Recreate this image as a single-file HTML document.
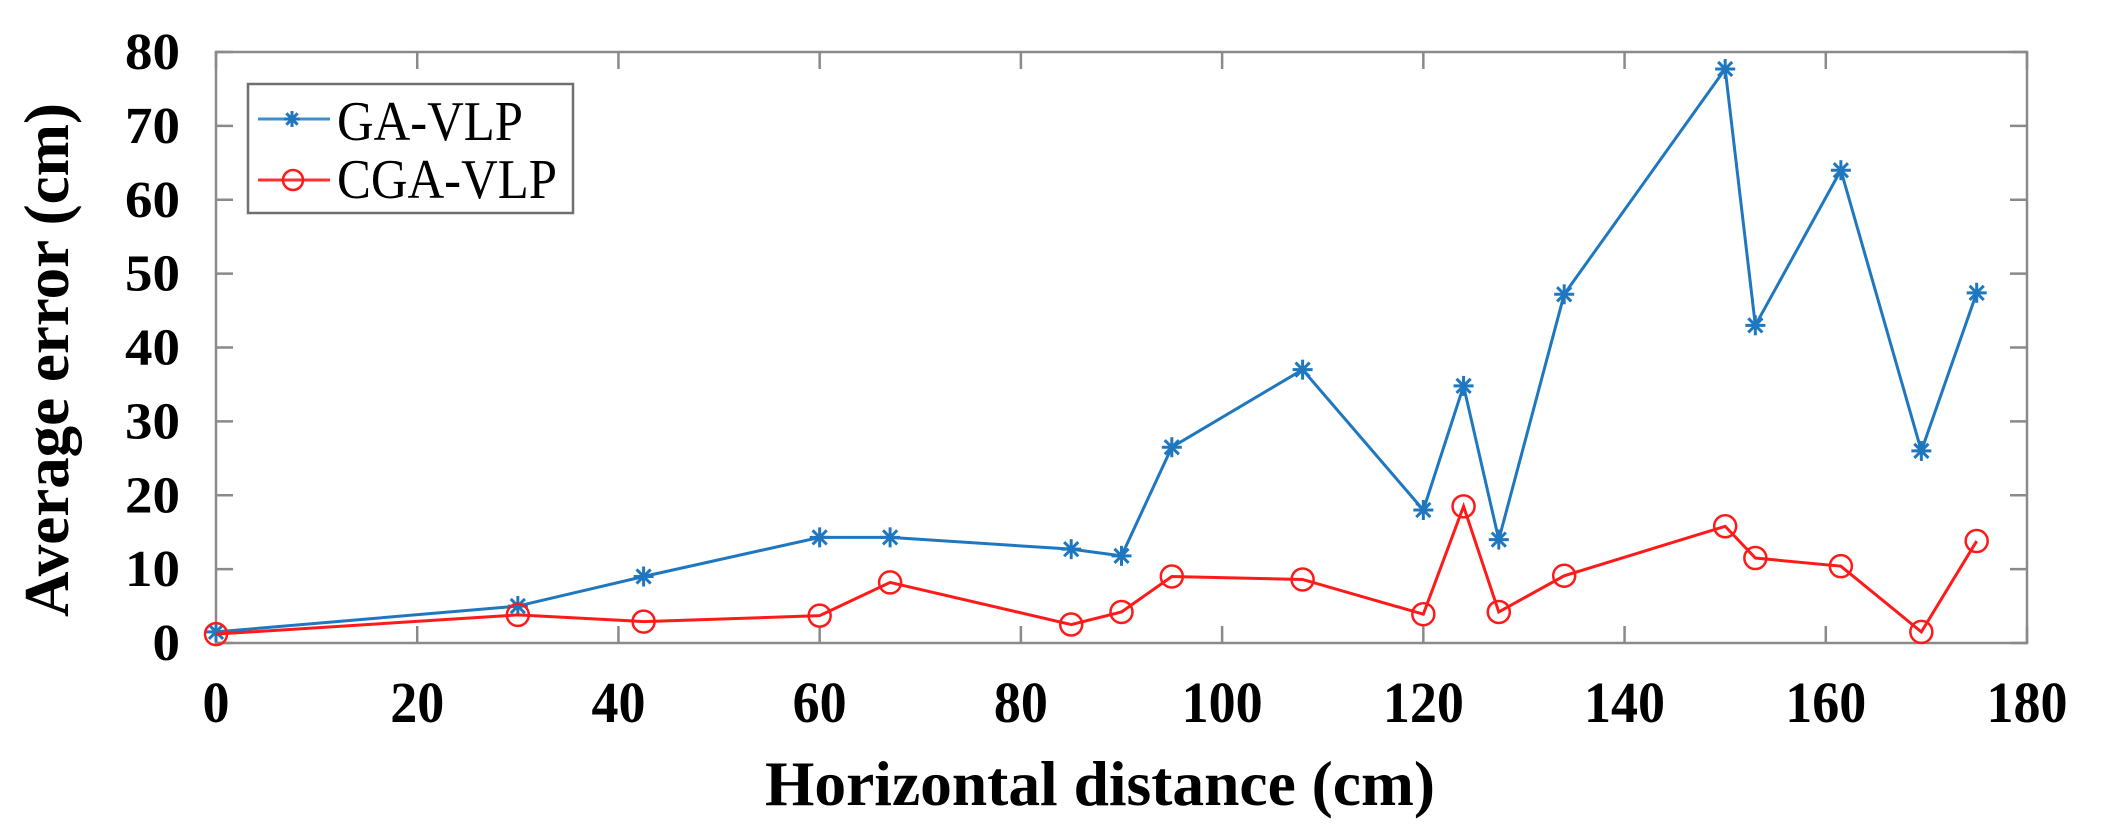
<!DOCTYPE html>
<html><head><meta charset="utf-8">
<style>html,body{margin:0;padding:0;background:#fff;width:2102px;height:836px;overflow:hidden}</style>
</head><body>
<svg id="s" width="2102" height="836" xmlns="http://www.w3.org/2000/svg" font-family="Liberation Serif, serif">
</svg>
<script>
const s=document.getElementById('s');
const L=216,R=2027,T=52,B=643;
const X=v=>L+v*(R-L)/180, Y=v=>B-v*(B-T)/80;
let h='';
h+=`<rect x="${L}" y="${T}" width="${R-L}" height="${B-T}" fill="none" stroke="#8a8a8a" stroke-width="2.5"/>`;
for(let v=0;v<=180;v+=20){const x=X(v);
 h+=`<line x1="${x}" y1="${B}" x2="${x}" y2="${B-17}" stroke="#8a8a8a" stroke-width="2.5"/><line x1="${x}" y1="${T}" x2="${x}" y2="${T+17}" stroke="#8a8a8a" stroke-width="2.5"/>`;
 const n=String(v).length;
 h+=`<text x="${x}" y="722" font-size="58" font-weight="bold" text-anchor="middle" textLength="${n*27}" lengthAdjust="spacingAndGlyphs">${v}</text>`;}
for(let v=0;v<=80;v+=10){const y=Y(v);
 h+=`<line x1="${L}" y1="${y}" x2="${L+17}" y2="${y}" stroke="#8a8a8a" stroke-width="2.5"/><line x1="${R}" y1="${y}" x2="${R-17}" y2="${y}" stroke="#8a8a8a" stroke-width="2.5"/>`;
 const n=String(v).length;
 h+=`<text x="${180-n*27.5}" y="${y+17}" font-size="52" font-weight="bold" textLength="${n*27.5}" lengthAdjust="spacingAndGlyphs">${v}</text>`;}
h+=`<text x="765" y="805" font-size="64" font-weight="bold" textLength="670" lengthAdjust="spacingAndGlyphs">Horizontal distance (cm)</text>`;
h+=`<text transform="translate(68,617) rotate(-90)" font-size="63" font-weight="bold" textLength="514" lengthAdjust="spacingAndGlyphs">Average error (cm)</text>`;
const xs=[0,30,42.5,60,67,85,90,95,108,120,124,127.5,134,150,153,161.5,169.5,175];
const ga=[1.5,5,9,14.3,14.3,12.7,11.8,26.5,37,18,34.8,14,47.2,77.7,43,64,26,47.4];
const cg=[1.2,3.8,2.9,3.7,8.2,2.5,4.2,9,8.6,3.9,18.5,4.2,9.1,15.8,11.5,10.4,1.5,13.8];
const star=(x,y,c,r=10)=>{let o='';for(let a=0;a<4;a++){const t=a*Math.PI/4+Math.PI/8*0;o+=`<line x1="${x-r*Math.cos(t)}" y1="${y-r*Math.sin(t)}" x2="${x+r*Math.cos(t)}" y2="${y+r*Math.sin(t)}" stroke="${c}" stroke-width="3"/>`;}return o;};
const circ=(x,y,c,r=11)=>`<circle cx="${x}" cy="${y}" r="${r}" fill="none" stroke="${c}" stroke-width="2.5"/>`;
h+=`<polyline fill="none" stroke="#1f77c0" stroke-width="3" points="${xs.map((v,i)=>X(v)+','+Y(ga[i])).join(' ')}"/>`;
xs.forEach((v,i)=>h+=star(X(v),Y(ga[i]),'#1f77c0'));
h+=`<polyline fill="none" stroke="#ff1a1a" stroke-width="3" points="${xs.map((v,i)=>X(v)+','+Y(cg[i])).join(' ')}"/>`;
xs.forEach((v,i)=>h+=circ(X(v),Y(cg[i]),'#ff1a1a'));
h+=`<rect x="248" y="84" width="325" height="129" fill="#fff" stroke="#707070" stroke-width="2.5"/>`;
h+=`<line x1="258" y1="119" x2="330" y2="119" stroke="#3a8fd0" stroke-width="3"/>`+star(292,119,'#1f77c0',8);
h+=`<line x1="258" y1="180" x2="330" y2="180" stroke="#ff3030" stroke-width="3"/>`+circ(293,180,'#ff1a1a',10);
h+=`<text x="337" y="140" font-size="56" textLength="186" lengthAdjust="spacingAndGlyphs">GA-VLP</text><text x="337" y="198" font-size="56" textLength="220" lengthAdjust="spacingAndGlyphs">CGA-VLP</text>`;
s.innerHTML=h;
</script>
</body></html>
